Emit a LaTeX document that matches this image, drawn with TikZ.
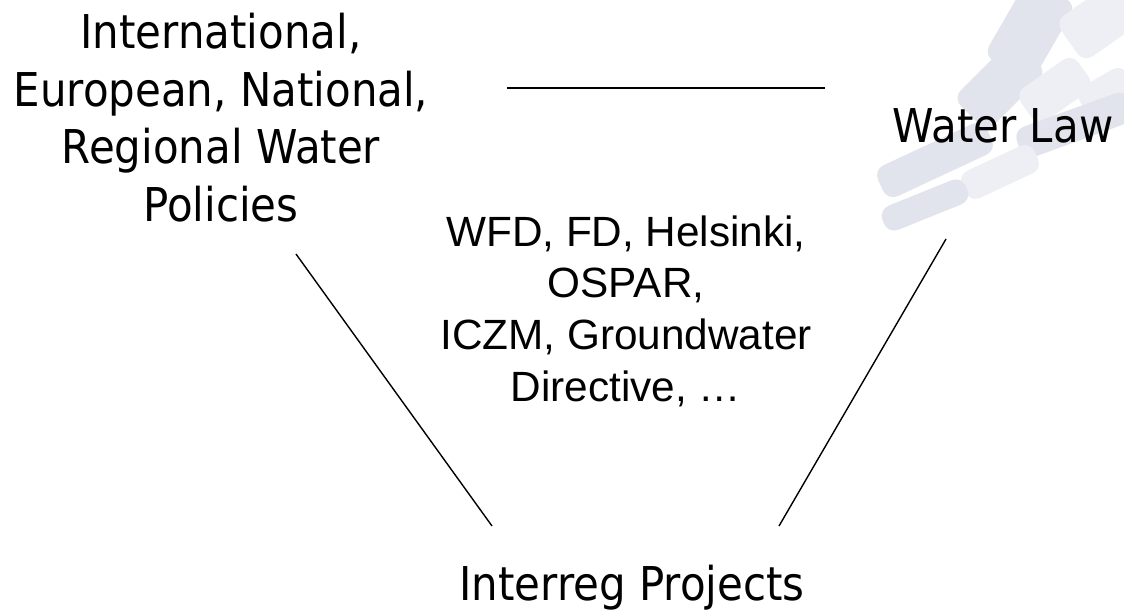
\documentclass[tikz,border=0pt]{standalone}
\usepackage{fontspec}
\setmainfont{DejaVu Sans}[FakeStretch=0.9]
\newfontfamily\arialfont{Liberation Sans}
\definecolor{wmark}{RGB}{225,228,236}
\definecolor{wmarkl}{RGB}{237,239,244}
\begin{document}
\begin{tikzpicture}[line width=1.4pt,x=1pt,y=-1pt,
	big/.style={font=\fontsize{46.6}{57.5}\selectfont,align=center,inner sep=0pt},
	small/.style={font=\arialfont\fontsize{42.3}{51.7}\selectfont,align=center,inner sep=0pt}]
	\useasboundingbox (0,0) rectangle (1124,611);
	\fill[white] (0,0) rectangle (1124,611);
	\begin{scope}
	\clip (0,0) rectangle (1124,611);
	\foreach \x/\y/\l/\t/\a/\c in {1030/30/90/55/60/wmark,1098/22/70/50/35/wmarkl,1000/85/85/48/45/wmark,
		1055/90/70/40/35/wmarkl,1108/95/55/40/30/wmarkl,1075/125/120/32/20/wmark,
		935/160/120/34/25/wmark,1000/172/80/30/25/wmarkl,925/205/90/26/22/wmark}{
		\fill[\c,rounded corners=11pt,rotate around={\a:(\x,\y)}] ({\x-\l/2},{\y-\t/2}) rectangle ({\x+\l/2},{\y+\t/2});
	}
	\end{scope}
	\node[big,anchor=north] (pol) at (221,12.5) {International,\\European, National,\\Regional Water\\Policies};
	\node[big,anchor=base] (law) at (1003,142) {Water Law};
	\node[small,anchor=north] (dir) at (626,214.7) {WFD, FD, Helsinki,\\OSPAR,\\ICZM, Groundwater\\Directive, …};
	\node[big,anchor=base] (int) at (632,600) {Interreg Projects};
	\path (507,88) coordinate (pol-e)
	(825,88) coordinate (law-w)
	(296,254) coordinate (pol-s)
	(492,526) coordinate (int-nw)
	(946,239) coordinate (law-s)
	(779,526) coordinate (int-ne);
	\draw[line width=1.8pt] (pol-e) -- (law-w);
	\draw (pol-s) -- (int-nw);
	\draw (law-s) -- (int-ne);
\end{tikzpicture}
\end{document}
